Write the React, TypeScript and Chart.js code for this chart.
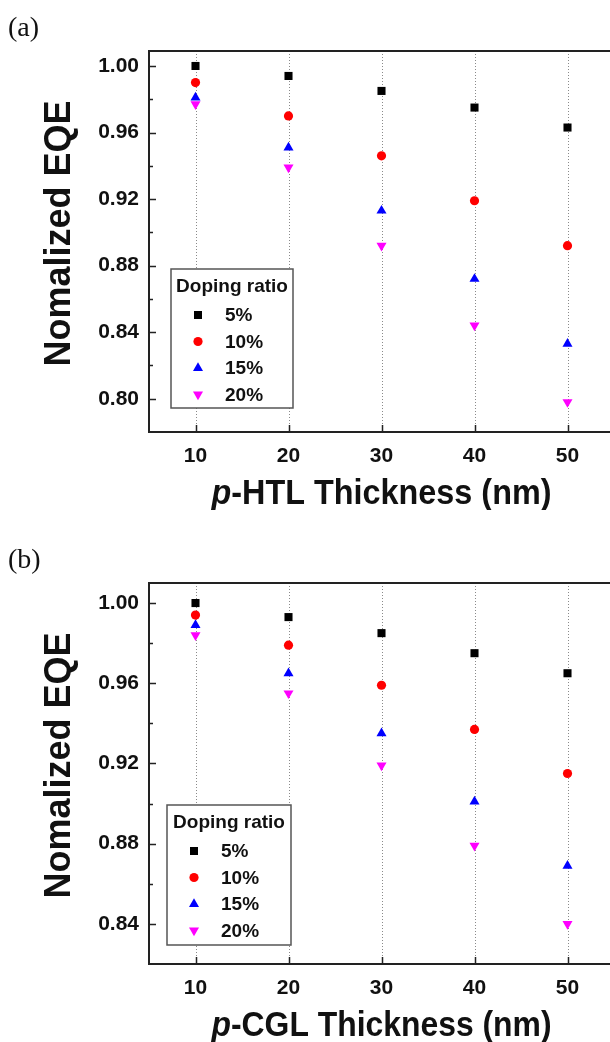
import React, { useEffect, useRef } from 'react';
import { Chart, registerables } from 'chart.js';

Chart.register(...registerables);

// ---------- data ----------
const thickness = [10, 20, 30, 40, 50];
const dopingLabels = ['5%', '10%', '15%', '20%'];

const htl5 = [1.0, 0.994, 0.985, 0.975, 0.963];
const htl10 = [0.990, 0.970, 0.946, 0.919, 0.892];
const htl15 = [0.981, 0.951, 0.913, 0.872, 0.833];
const htl20 = [0.977, 0.939, 0.892, 0.844, 0.798];

const cgl5 = [1.0, 0.993, 0.985, 0.975, 0.965];
const cgl10 = [0.994, 0.979, 0.959, 0.937, 0.915];
const cgl15 = [0.989, 0.965, 0.935, 0.901, 0.869];
const cgl20 = [0.984, 0.955, 0.919, 0.879, 0.840];

const xTickValues = [10, 20, 30, 40, 50];
const htlYTicks = [0.80, 0.84, 0.88, 0.92, 0.96, 1.00];
const htlYMinor = [0.82, 0.86, 0.90, 0.94, 0.98];
const cglYTicks = [0.84, 0.88, 0.92, 0.96, 1.00];
const cglYMinor = [0.86, 0.90, 0.94, 0.98];

// ---------- styles ----------
const markerStyles = [
  { color: '#000000', pointStyle: 'rect', rotation: 0, radius: 5.7 },
  { color: '#ff0000', pointStyle: 'circle', rotation: 0, radius: 4.6 },
  { color: '#0000ff', pointStyle: 'triangle', rotation: 0, radius: 5.8 },
  { color: '#ff00ff', pointStyle: 'triangle', rotation: 180, radius: 5.8 },
];

const FONT = '"Liberation Sans", Arial, Helvetica, sans-serif';
const PANEL_W = 620;
const PANEL_H = 510;

function drawMarker(ctx: CanvasRenderingContext2D, style: string, rotDeg: number, r: number, cx: number, cy: number, color: string) {
  ctx.save();
  ctx.fillStyle = color;
  ctx.beginPath();
  if (style === 'rect') {
    const s = Math.SQRT1_2 * r;
    ctx.rect(cx - s, cy - s, 2 * s, 2 * s);
  } else if (style === 'circle') {
    ctx.arc(cx, cy, r, 0, Math.PI * 2);
  } else {
    let th = (rotDeg * Math.PI) / 180;
    ctx.moveTo(cx + Math.sin(th) * r, cy - Math.cos(th) * r);
    th += (2 * Math.PI) / 3;
    ctx.lineTo(cx + Math.sin(th) * r, cy - Math.cos(th) * r);
    th += (2 * Math.PI) / 3;
    ctx.lineTo(cx + Math.sin(th) * r, cy - Math.cos(th) * r);
    ctx.closePath();
  }
  ctx.fill();
  ctx.restore();
}

const decorPlugin = {
  id: 'decor',
  beforeDatasetsDraw(chart: any, _args: any, o: any) {
    const { ctx, chartArea: a } = chart;
    const x = chart.scales.x;
    const y = chart.scales.y;
    ctx.save();
    // dotted vertical grid lines
    ctx.strokeStyle = '#8a8a8a';
    ctx.lineWidth = 1;
    ctx.setLineDash([1, 2]);
    x.ticks.forEach((t: any) => {
      const px = Math.round(x.getPixelForValue(t.value)) + 0.5;
      ctx.beginPath();
      ctx.moveTo(px, a.top);
      ctx.lineTo(px, a.bottom);
      ctx.stroke();
    });
    ctx.setLineDash([]);
    // inward ticks
    ctx.strokeStyle = '#222';
    ctx.lineWidth = 1.5;
    ctx.beginPath();
    x.ticks.forEach((t: any) => {
      const px = Math.round(x.getPixelForValue(t.value)) + 0.5;
      ctx.moveTo(px, a.bottom);
      ctx.lineTo(px, a.bottom - 7);
    });
    y.ticks.forEach((t: any) => {
      const py = Math.round(y.getPixelForValue(t.value)) + 0.5;
      ctx.moveTo(a.left, py);
      ctx.lineTo(a.left + 7, py);
    });
    (o.minorY || []).forEach((v: number) => {
      const py = Math.round(y.getPixelForValue(v)) + 0.5;
      ctx.moveTo(a.left, py);
      ctx.lineTo(a.left + 4, py);
    });
    ctx.stroke();
    // frame
    ctx.strokeStyle = '#222';
    ctx.lineWidth = 2;
    ctx.beginPath();
    ctx.moveTo(a.right + 2, a.top);
    ctx.lineTo(a.left, a.top);
    ctx.lineTo(a.left, a.bottom);
    ctx.lineTo(a.right + 2, a.bottom);
    ctx.stroke();
    ctx.restore();
  },
  afterDatasetsDraw(chart: any, _args: any, o: any) {
    const { ctx } = chart;
    const L = o.legend;
    ctx.save();
    ctx.fillStyle = '#ffffff';
    ctx.fillRect(L.x, L.y, L.w, L.h);
    ctx.strokeStyle = '#555';
    ctx.lineWidth = 1.5;
    ctx.strokeRect(L.x, L.y, L.w, L.h);
    ctx.fillStyle = '#111';
    ctx.font = `bold 19px ${FONT}`;
    ctx.textAlign = 'center';
    ctx.textBaseline = 'middle';
    ctx.fillText(o.legendTitle, L.x + L.w / 2, L.y + 18);
    ctx.textAlign = 'left';
    chart.data.datasets.forEach((ds: any, i: number) => {
      const yy = L.y + 46 + i * 26.5;
      drawMarker(ctx, ds.pointStyle, ds.pointRotation || 0, ds.pointRadius, L.x + 27, yy, ds.backgroundColor);
      ctx.fillStyle = '#111';
      ctx.fillText(ds.label, L.x + 54, yy + 1);
    });
    ctx.restore();
  },
  afterDraw(chart: any, _args: any, o: any) {
    const { ctx, chartArea: a } = chart;
    ctx.save();
    ctx.fillStyle = '#111';
    // panel label
    ctx.font = `28px "Liberation Serif", "Times New Roman", serif`;
    ctx.textAlign = 'left';
    ctx.textBaseline = 'alphabetic';
    ctx.fillText(o.panelLabel, 8, 36);
    // y title
    ctx.save();
    ctx.font = `bold 36px ${FONT}`;
    ctx.translate(o.yTitleX, (a.top + a.bottom) / 2 - 8);
    ctx.rotate(-Math.PI / 2);
    ctx.textAlign = 'center';
    ctx.textBaseline = 'middle';
    ctx.fillText(o.yTitle, 0, 0);
    ctx.restore();
    // x title with italic "p"
    const size = 35;
    const italicFont = `italic bold ${size}px ${FONT}`;
    const boldFont = `bold ${size}px ${FONT}`;
    ctx.font = italicFont;
    const w1 = ctx.measureText(o.xTitleItalic).width;
    ctx.font = boldFont;
    const w2 = ctx.measureText(o.xTitleRest).width;
    const sx = o.xTitleWidth / (w1 + w2);
    const cx = (a.left + a.right) / 2;
    ctx.translate(cx, a.bottom + 72);
    ctx.scale(sx, 1);
    ctx.textAlign = 'left';
    ctx.textBaseline = 'alphabetic';
    const start = -(w1 + w2) / 2;
    ctx.font = italicFont;
    ctx.fillText(o.xTitleItalic, start, 0);
    ctx.font = boldFont;
    ctx.fillText(o.xTitleRest, start + w1, 0);
    ctx.restore();
  },
};

function buildDatasets(series: number[][]) {
  return series.map((vals, i) => {
    const m = markerStyles[i];
    return {
      label: dopingLabels[i],
      data: thickness.map((t, j) => ({ x: t, y: vals[j] })),
      backgroundColor: m.color,
      borderColor: m.color,
      borderWidth: 0,
      pointStyle: m.pointStyle,
      pointRotation: m.rotation,
      pointRadius: m.radius,
      pointHoverRadius: m.radius,
      pointBorderWidth: 0,
      showLine: false,
    };
  });
}

type PanelProps = {
  series: number[][];
  yMin: number;
  yMax: number;
  yTicks: number[];
  yMinor: number[];
  panelLabel: string;
  xTitleRest: string;
  legend: { x: number; y: number; w: number; h: number };
  top: number;
};

function Panel(props: PanelProps) {
  const ref = useRef<HTMLCanvasElement | null>(null);
  useEffect(() => {
    if (!ref.current) return;
    const tickFont = { family: FONT, weight: 'bold' as const, size: 21 };
    const chart = new Chart(ref.current, {
      type: 'scatter',
      data: { datasets: buildDatasets(props.series) as any },
      options: {
        responsive: false,
        animation: false,
        devicePixelRatio: 1,
        layout: { padding: { top: 51, left: 0, right: 6, bottom: 0 } },
        plugins: {
          legend: { display: false },
          tooltip: { enabled: false },
          decor: {
            minorY: props.yMinor,
            legend: props.legend,
            legendTitle: 'Doping ratio',
            panelLabel: props.panelLabel,
            yTitle: 'Nomalized EQE',
            yTitleX: 60,
            xTitleItalic: 'p',
            xTitleRest: props.xTitleRest,
            xTitleWidth: 340,
          },
        } as any,
        scales: {
          x: {
            type: 'linear',
            min: 5,
            max: 55,
            grid: { display: false, drawTicks: false },
            border: { display: false },
            ticks: { font: tickFont, color: '#111', padding: 12, callback: (v: any) => String(v) },
            afterBuildTicks: (s: any) => {
              s.ticks = xTickValues.map((v) => ({ value: v }));
            },
            afterFit: (s: any) => {
              s.height = PANEL_H - 432;
            },
          },
          y: {
            type: 'linear',
            min: props.yMin,
            max: props.yMax,
            grid: { display: false, drawTicks: false },
            border: { display: false },
            ticks: { font: tickFont, color: '#111', padding: 10, callback: (v: any) => Number(v).toFixed(2) },
            afterBuildTicks: (s: any) => {
              s.ticks = props.yTicks.map((v) => ({ value: v }));
            },
            afterFit: (s: any) => {
              s.width = 149;
            },
          },
        },
      },
      plugins: [decorPlugin as any],
    });
    return () => chart.destroy();
  }, []);
  return (
    <canvas
      ref={ref}
      width={PANEL_W}
      height={PANEL_H}
      style={{ position: 'absolute', left: 0, top: props.top, width: PANEL_W, height: PANEL_H }}
    />
  );
}

export default function App() {
  return (
    <div
      style={{
        position: 'fixed',
        left: 0,
        top: 0,
        width: 610,
        height: 1042,
        overflow: 'hidden',
        background: '#ffffff',
      }}
    >
      <Panel
        series={[htl5, htl10, htl15, htl20]}
        yMin={0.78}
        yMax={1.009}
        yTicks={htlYTicks}
        yMinor={htlYMinor}
        panelLabel="(a)"
        xTitleRest="-HTL Thickness (nm)"
        legend={{ x: 171, y: 269, w: 122, h: 139 }}
        top={0}
      />
      <Panel
        series={[cgl5, cgl10, cgl15, cgl20]}
        yMin={0.82}
        yMax={1.01}
        yTicks={cglYTicks}
        yMinor={cglYMinor}
        panelLabel="(b)"
        xTitleRest="-CGL Thickness (nm)"
        legend={{ x: 167, y: 273, w: 124, h: 140 }}
        top={532}
      />
    </div>
  );
}
